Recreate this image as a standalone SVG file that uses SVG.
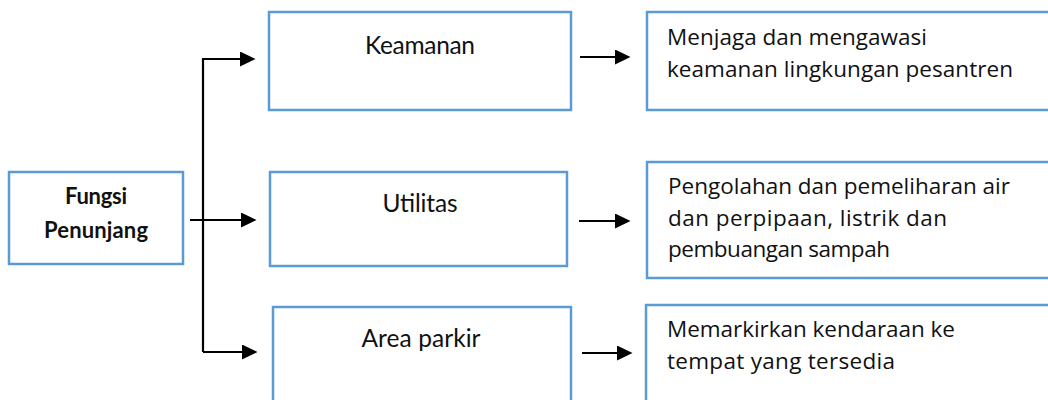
<svg xmlns="http://www.w3.org/2000/svg" width="1048" height="400" viewBox="0 0 1048 400">
  <style>
    .box { fill: #ffffff; stroke: #5B9BD5; stroke-width: 2.5; }
    .mid { font-family: Lato, "Liberation Sans", sans-serif; font-size: 24.5px; fill: #111; text-anchor: middle; }
    .left { font-family: Lato, "Liberation Sans", sans-serif; font-size: 22px; font-weight: bold; fill: #111; text-anchor: middle; }
    .desc { font-family: "Open Sans", "Liberation Sans", sans-serif; font-size: 22.5px; fill: #111; }
    .conn { fill: none; stroke: #000; stroke-width: 2.2; }
  </style>
  <defs>
    <marker id="arr" markerUnits="userSpaceOnUse" markerWidth="16" markerHeight="16" refX="0" refY="7.5" orient="auto">
      <path d="M0,0 L15.5,7.5 L0,15 z" fill="#000"/>
    </marker>
  </defs>

  <g id="node-fungsi">
    <rect class="box" x="9" y="172" width="174" height="92"/>
    <text class="left" x="96" y="204" textLength="62">Fungsi</text>
    <text class="left" x="96" y="238" textLength="104">Penunjang</text>
  </g>

  <g id="node-keamanan">
    <rect class="box" x="269" y="12" width="302" height="98"/>
    <text class="mid" x="420" y="54" textLength="110">Keamanan</text>
  </g>
  <g id="node-utilitas">
    <rect class="box" x="270" y="172" width="297" height="94"/>
    <text class="mid" x="420" y="212" textLength="75">Utilitas</text>
  </g>
  <g id="node-parkir">
    <rect class="box" x="273" y="307" width="298" height="113"/>
    <text class="mid" x="421" y="347" textLength="119">Area parkir</text>
  </g>

  <g id="node-desc-keamanan">
    <rect class="box" x="647" y="12" width="420" height="98"/>
    <text class="desc" x="667" y="45" textLength="260">Menjaga dan mengawasi</text>
    <text class="desc" x="667" y="77" textLength="346">keamanan lingkungan pesantren</text>
  </g>
  <g id="node-desc-utilitas">
    <rect class="box" x="647" y="162" width="420" height="116"/>
    <text class="desc" x="668" y="194" textLength="342">Pengolahan dan pemeliharan air</text>
    <text class="desc" x="668" y="226" textLength="279">dan perpipaan, listrik dan</text>
    <text class="desc" x="668" y="257" textLength="222">pembuangan sampah</text>
  </g>
  <g id="node-desc-parkir">
    <rect class="box" x="646" y="305" width="420" height="115"/>
    <text class="desc" x="667" y="337" textLength="288">Memarkirkan kendaraan ke</text>
    <text class="desc" x="667" y="369" textLength="228">tempat yang tersedia</text>
  </g>

  <g id="connectors">
    <path class="conn" d="M203,352 L203,59 L240,59" marker-end="url(#arr)"/>
    <path class="conn" d="M190,220 L241,220" marker-end="url(#arr)"/>
    <path class="conn" d="M203,352 L242,352" marker-end="url(#arr)"/>
    <path class="conn" d="M580,57 L615,57" marker-end="url(#arr)"/>
    <path class="conn" d="M579,221 L615,221" marker-end="url(#arr)"/>
    <path class="conn" d="M582,353 L617,353" marker-end="url(#arr)"/>
  </g>
</svg>
